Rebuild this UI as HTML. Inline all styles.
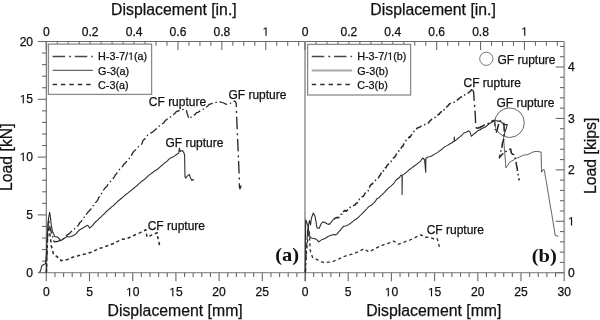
<!DOCTYPE html>
<html><head><meta charset="utf-8"><style>
html,body{margin:0;padding:0;background:#fff;}
body{width:600px;height:320px;overflow:hidden;}
svg{display:block;will-change:transform;}
text{stroke:#111;stroke-width:0.25px;}

</style></head><body>
<svg width="600" height="320" viewBox="0 0 600 320">
<rect width="600" height="320" fill="#fff"/>
<line x1="46.30" y1="41.50" x2="564.20" y2="41.50" stroke="#6a6a6a" stroke-width="1.1"/>
<line x1="46.30" y1="272.70" x2="564.20" y2="272.70" stroke="#939393" stroke-width="1.2"/>
<line x1="46.30" y1="41.50" x2="46.30" y2="272.70" stroke="#6a6a6a" stroke-width="1.1"/>
<line x1="564.20" y1="41.50" x2="564.20" y2="272.70" stroke="#a9a9a9" stroke-width="1.9"/>
<line x1="305.00" y1="41.50" x2="305.00" y2="272.70" stroke="#a9a9a9" stroke-width="1.9"/>
<line x1="37.80" y1="272.70" x2="46.30" y2="272.70" stroke="#6a6a6a" stroke-width="1.1"/>
<line x1="42.00" y1="261.14" x2="46.30" y2="261.14" stroke="#6a6a6a" stroke-width="1.1"/>
<line x1="42.00" y1="249.58" x2="46.30" y2="249.58" stroke="#6a6a6a" stroke-width="1.1"/>
<line x1="42.00" y1="238.02" x2="46.30" y2="238.02" stroke="#6a6a6a" stroke-width="1.1"/>
<line x1="42.00" y1="226.46" x2="46.30" y2="226.46" stroke="#6a6a6a" stroke-width="1.1"/>
<line x1="37.80" y1="214.90" x2="46.30" y2="214.90" stroke="#6a6a6a" stroke-width="1.1"/>
<line x1="42.00" y1="203.34" x2="46.30" y2="203.34" stroke="#6a6a6a" stroke-width="1.1"/>
<line x1="42.00" y1="191.78" x2="46.30" y2="191.78" stroke="#6a6a6a" stroke-width="1.1"/>
<line x1="42.00" y1="180.22" x2="46.30" y2="180.22" stroke="#6a6a6a" stroke-width="1.1"/>
<line x1="42.00" y1="168.66" x2="46.30" y2="168.66" stroke="#6a6a6a" stroke-width="1.1"/>
<line x1="37.80" y1="157.10" x2="46.30" y2="157.10" stroke="#6a6a6a" stroke-width="1.1"/>
<line x1="42.00" y1="145.54" x2="46.30" y2="145.54" stroke="#6a6a6a" stroke-width="1.1"/>
<line x1="42.00" y1="133.98" x2="46.30" y2="133.98" stroke="#6a6a6a" stroke-width="1.1"/>
<line x1="42.00" y1="122.42" x2="46.30" y2="122.42" stroke="#6a6a6a" stroke-width="1.1"/>
<line x1="42.00" y1="110.86" x2="46.30" y2="110.86" stroke="#6a6a6a" stroke-width="1.1"/>
<line x1="37.80" y1="99.30" x2="46.30" y2="99.30" stroke="#6a6a6a" stroke-width="1.1"/>
<line x1="42.00" y1="87.74" x2="46.30" y2="87.74" stroke="#6a6a6a" stroke-width="1.1"/>
<line x1="42.00" y1="76.18" x2="46.30" y2="76.18" stroke="#6a6a6a" stroke-width="1.1"/>
<line x1="42.00" y1="64.62" x2="46.30" y2="64.62" stroke="#6a6a6a" stroke-width="1.1"/>
<line x1="42.00" y1="53.06" x2="46.30" y2="53.06" stroke="#6a6a6a" stroke-width="1.1"/>
<line x1="37.80" y1="41.50" x2="46.30" y2="41.50" stroke="#6a6a6a" stroke-width="1.1"/>
<text x="33.10" y="276.70" font-size="12.1" text-anchor="end" font-family="Liberation Sans" font-weight="normal" fill="#111" >0</text>
<text x="33.10" y="218.90" font-size="12.1" text-anchor="end" font-family="Liberation Sans" font-weight="normal" fill="#111" >5</text>
<text x="19.64" y="161.10" font-size="12.1" text-anchor="start" font-family="Liberation Sans" font-weight="normal" fill="#111" > 0</text>
<path d="M525 0V1237L207 1010V1180L540 1409H706V0Z" fill="#111" stroke="#111" stroke-width="20.3" transform="translate(19.64,161.10) scale(0.005908,-0.005908)"/>
<text x="19.64" y="103.30" font-size="12.1" text-anchor="start" font-family="Liberation Sans" font-weight="normal" fill="#111" > 5</text>
<path d="M525 0V1237L207 1010V1180L540 1409H706V0Z" fill="#111" stroke="#111" stroke-width="20.3" transform="translate(19.64,103.30) scale(0.005908,-0.005908)"/>
<text x="33.10" y="45.50" font-size="12.1" text-anchor="end" font-family="Liberation Sans" font-weight="normal" fill="#111" >20</text>
<line x1="555.70" y1="272.70" x2="564.20" y2="272.70" stroke="#6a6a6a" stroke-width="1.1"/>
<line x1="559.90" y1="262.42" x2="564.20" y2="262.42" stroke="#6a6a6a" stroke-width="1.1"/>
<line x1="559.90" y1="252.13" x2="564.20" y2="252.13" stroke="#6a6a6a" stroke-width="1.1"/>
<line x1="559.90" y1="241.85" x2="564.20" y2="241.85" stroke="#6a6a6a" stroke-width="1.1"/>
<line x1="559.90" y1="231.56" x2="564.20" y2="231.56" stroke="#6a6a6a" stroke-width="1.1"/>
<line x1="555.70" y1="221.28" x2="564.20" y2="221.28" stroke="#6a6a6a" stroke-width="1.1"/>
<line x1="559.90" y1="210.99" x2="564.20" y2="210.99" stroke="#6a6a6a" stroke-width="1.1"/>
<line x1="559.90" y1="200.71" x2="564.20" y2="200.71" stroke="#6a6a6a" stroke-width="1.1"/>
<line x1="559.90" y1="190.43" x2="564.20" y2="190.43" stroke="#6a6a6a" stroke-width="1.1"/>
<line x1="559.90" y1="180.14" x2="564.20" y2="180.14" stroke="#6a6a6a" stroke-width="1.1"/>
<line x1="555.70" y1="169.86" x2="564.20" y2="169.86" stroke="#6a6a6a" stroke-width="1.1"/>
<line x1="559.90" y1="159.57" x2="564.20" y2="159.57" stroke="#6a6a6a" stroke-width="1.1"/>
<line x1="559.90" y1="149.29" x2="564.20" y2="149.29" stroke="#6a6a6a" stroke-width="1.1"/>
<line x1="559.90" y1="139.00" x2="564.20" y2="139.00" stroke="#6a6a6a" stroke-width="1.1"/>
<line x1="559.90" y1="128.72" x2="564.20" y2="128.72" stroke="#6a6a6a" stroke-width="1.1"/>
<line x1="555.70" y1="118.44" x2="564.20" y2="118.44" stroke="#6a6a6a" stroke-width="1.1"/>
<line x1="559.90" y1="108.15" x2="564.20" y2="108.15" stroke="#6a6a6a" stroke-width="1.1"/>
<line x1="559.90" y1="97.87" x2="564.20" y2="97.87" stroke="#6a6a6a" stroke-width="1.1"/>
<line x1="559.90" y1="87.58" x2="564.20" y2="87.58" stroke="#6a6a6a" stroke-width="1.1"/>
<line x1="559.90" y1="77.30" x2="564.20" y2="77.30" stroke="#6a6a6a" stroke-width="1.1"/>
<line x1="555.70" y1="67.01" x2="564.20" y2="67.01" stroke="#6a6a6a" stroke-width="1.1"/>
<line x1="559.90" y1="56.73" x2="564.20" y2="56.73" stroke="#6a6a6a" stroke-width="1.1"/>
<line x1="559.90" y1="46.45" x2="564.20" y2="46.45" stroke="#6a6a6a" stroke-width="1.1"/>
<text x="567.90" y="277.00" font-size="12.1" text-anchor="start" font-family="Liberation Sans" font-weight="normal" fill="#111" >0</text>
<text x="567.90" y="225.58" font-size="12.1" text-anchor="start" font-family="Liberation Sans" font-weight="normal" fill="#111" > </text>
<path d="M525 0V1237L207 1010V1180L540 1409H706V0Z" fill="#111" stroke="#111" stroke-width="20.3" transform="translate(567.90,225.58) scale(0.005908,-0.005908)"/>
<text x="567.90" y="174.16" font-size="12.1" text-anchor="start" font-family="Liberation Sans" font-weight="normal" fill="#111" >2</text>
<text x="567.90" y="122.74" font-size="12.1" text-anchor="start" font-family="Liberation Sans" font-weight="normal" fill="#111" >3</text>
<text x="567.90" y="71.31" font-size="12.1" text-anchor="start" font-family="Liberation Sans" font-weight="normal" fill="#111" >4</text>
<line x1="46.30" y1="272.70" x2="46.30" y2="281.20" stroke="#6a6a6a" stroke-width="1.1"/>
<line x1="54.94" y1="272.70" x2="54.94" y2="277.00" stroke="#6a6a6a" stroke-width="1.1"/>
<line x1="63.58" y1="272.70" x2="63.58" y2="277.00" stroke="#6a6a6a" stroke-width="1.1"/>
<line x1="72.22" y1="272.70" x2="72.22" y2="277.00" stroke="#6a6a6a" stroke-width="1.1"/>
<line x1="80.86" y1="272.70" x2="80.86" y2="277.00" stroke="#6a6a6a" stroke-width="1.1"/>
<line x1="89.50" y1="272.70" x2="89.50" y2="281.20" stroke="#6a6a6a" stroke-width="1.1"/>
<line x1="98.14" y1="272.70" x2="98.14" y2="277.00" stroke="#6a6a6a" stroke-width="1.1"/>
<line x1="106.78" y1="272.70" x2="106.78" y2="277.00" stroke="#6a6a6a" stroke-width="1.1"/>
<line x1="115.42" y1="272.70" x2="115.42" y2="277.00" stroke="#6a6a6a" stroke-width="1.1"/>
<line x1="124.06" y1="272.70" x2="124.06" y2="277.00" stroke="#6a6a6a" stroke-width="1.1"/>
<line x1="132.70" y1="272.70" x2="132.70" y2="281.20" stroke="#6a6a6a" stroke-width="1.1"/>
<line x1="141.34" y1="272.70" x2="141.34" y2="277.00" stroke="#6a6a6a" stroke-width="1.1"/>
<line x1="149.98" y1="272.70" x2="149.98" y2="277.00" stroke="#6a6a6a" stroke-width="1.1"/>
<line x1="158.62" y1="272.70" x2="158.62" y2="277.00" stroke="#6a6a6a" stroke-width="1.1"/>
<line x1="167.26" y1="272.70" x2="167.26" y2="277.00" stroke="#6a6a6a" stroke-width="1.1"/>
<line x1="175.90" y1="272.70" x2="175.90" y2="281.20" stroke="#6a6a6a" stroke-width="1.1"/>
<line x1="184.54" y1="272.70" x2="184.54" y2="277.00" stroke="#6a6a6a" stroke-width="1.1"/>
<line x1="193.18" y1="272.70" x2="193.18" y2="277.00" stroke="#6a6a6a" stroke-width="1.1"/>
<line x1="201.82" y1="272.70" x2="201.82" y2="277.00" stroke="#6a6a6a" stroke-width="1.1"/>
<line x1="210.46" y1="272.70" x2="210.46" y2="277.00" stroke="#6a6a6a" stroke-width="1.1"/>
<line x1="219.10" y1="272.70" x2="219.10" y2="281.20" stroke="#6a6a6a" stroke-width="1.1"/>
<line x1="227.74" y1="272.70" x2="227.74" y2="277.00" stroke="#6a6a6a" stroke-width="1.1"/>
<line x1="236.38" y1="272.70" x2="236.38" y2="277.00" stroke="#6a6a6a" stroke-width="1.1"/>
<line x1="245.02" y1="272.70" x2="245.02" y2="277.00" stroke="#6a6a6a" stroke-width="1.1"/>
<line x1="253.66" y1="272.70" x2="253.66" y2="277.00" stroke="#6a6a6a" stroke-width="1.1"/>
<line x1="262.30" y1="272.70" x2="262.30" y2="281.20" stroke="#6a6a6a" stroke-width="1.1"/>
<line x1="270.94" y1="272.70" x2="270.94" y2="277.00" stroke="#6a6a6a" stroke-width="1.1"/>
<line x1="279.58" y1="272.70" x2="279.58" y2="277.00" stroke="#6a6a6a" stroke-width="1.1"/>
<line x1="288.22" y1="272.70" x2="288.22" y2="277.00" stroke="#6a6a6a" stroke-width="1.1"/>
<line x1="296.86" y1="272.70" x2="296.86" y2="277.00" stroke="#6a6a6a" stroke-width="1.1"/>
<line x1="305.50" y1="272.70" x2="305.50" y2="281.20" stroke="#6a6a6a" stroke-width="1.1"/>
<text x="46.30" y="296.20" font-size="12.1" text-anchor="middle" font-family="Liberation Sans" font-weight="normal" fill="#111" >0</text>
<text x="89.50" y="296.20" font-size="12.1" text-anchor="middle" font-family="Liberation Sans" font-weight="normal" fill="#111" >5</text>
<text x="125.97" y="296.20" font-size="12.1" text-anchor="start" font-family="Liberation Sans" font-weight="normal" fill="#111" > 0</text>
<path d="M525 0V1237L207 1010V1180L540 1409H706V0Z" fill="#111" stroke="#111" stroke-width="20.3" transform="translate(125.97,296.20) scale(0.005908,-0.005908)"/>
<text x="169.17" y="296.20" font-size="12.1" text-anchor="start" font-family="Liberation Sans" font-weight="normal" fill="#111" > 5</text>
<path d="M525 0V1237L207 1010V1180L540 1409H706V0Z" fill="#111" stroke="#111" stroke-width="20.3" transform="translate(169.17,296.20) scale(0.005908,-0.005908)"/>
<text x="219.10" y="296.20" font-size="12.1" text-anchor="middle" font-family="Liberation Sans" font-weight="normal" fill="#111" >20</text>
<text x="262.30" y="296.20" font-size="12.1" text-anchor="middle" font-family="Liberation Sans" font-weight="normal" fill="#111" >25</text>
<line x1="305.00" y1="272.70" x2="305.00" y2="281.20" stroke="#6a6a6a" stroke-width="1.1"/>
<line x1="313.64" y1="272.70" x2="313.64" y2="277.00" stroke="#6a6a6a" stroke-width="1.1"/>
<line x1="322.28" y1="272.70" x2="322.28" y2="277.00" stroke="#6a6a6a" stroke-width="1.1"/>
<line x1="330.92" y1="272.70" x2="330.92" y2="277.00" stroke="#6a6a6a" stroke-width="1.1"/>
<line x1="339.56" y1="272.70" x2="339.56" y2="277.00" stroke="#6a6a6a" stroke-width="1.1"/>
<line x1="348.20" y1="272.70" x2="348.20" y2="281.20" stroke="#6a6a6a" stroke-width="1.1"/>
<line x1="356.84" y1="272.70" x2="356.84" y2="277.00" stroke="#6a6a6a" stroke-width="1.1"/>
<line x1="365.48" y1="272.70" x2="365.48" y2="277.00" stroke="#6a6a6a" stroke-width="1.1"/>
<line x1="374.12" y1="272.70" x2="374.12" y2="277.00" stroke="#6a6a6a" stroke-width="1.1"/>
<line x1="382.76" y1="272.70" x2="382.76" y2="277.00" stroke="#6a6a6a" stroke-width="1.1"/>
<line x1="391.40" y1="272.70" x2="391.40" y2="281.20" stroke="#6a6a6a" stroke-width="1.1"/>
<line x1="400.04" y1="272.70" x2="400.04" y2="277.00" stroke="#6a6a6a" stroke-width="1.1"/>
<line x1="408.68" y1="272.70" x2="408.68" y2="277.00" stroke="#6a6a6a" stroke-width="1.1"/>
<line x1="417.32" y1="272.70" x2="417.32" y2="277.00" stroke="#6a6a6a" stroke-width="1.1"/>
<line x1="425.96" y1="272.70" x2="425.96" y2="277.00" stroke="#6a6a6a" stroke-width="1.1"/>
<line x1="434.60" y1="272.70" x2="434.60" y2="281.20" stroke="#6a6a6a" stroke-width="1.1"/>
<line x1="443.24" y1="272.70" x2="443.24" y2="277.00" stroke="#6a6a6a" stroke-width="1.1"/>
<line x1="451.88" y1="272.70" x2="451.88" y2="277.00" stroke="#6a6a6a" stroke-width="1.1"/>
<line x1="460.52" y1="272.70" x2="460.52" y2="277.00" stroke="#6a6a6a" stroke-width="1.1"/>
<line x1="469.16" y1="272.70" x2="469.16" y2="277.00" stroke="#6a6a6a" stroke-width="1.1"/>
<line x1="477.80" y1="272.70" x2="477.80" y2="281.20" stroke="#6a6a6a" stroke-width="1.1"/>
<line x1="486.44" y1="272.70" x2="486.44" y2="277.00" stroke="#6a6a6a" stroke-width="1.1"/>
<line x1="495.08" y1="272.70" x2="495.08" y2="277.00" stroke="#6a6a6a" stroke-width="1.1"/>
<line x1="503.72" y1="272.70" x2="503.72" y2="277.00" stroke="#6a6a6a" stroke-width="1.1"/>
<line x1="512.36" y1="272.70" x2="512.36" y2="277.00" stroke="#6a6a6a" stroke-width="1.1"/>
<line x1="521.00" y1="272.70" x2="521.00" y2="281.20" stroke="#6a6a6a" stroke-width="1.1"/>
<line x1="529.64" y1="272.70" x2="529.64" y2="277.00" stroke="#6a6a6a" stroke-width="1.1"/>
<line x1="538.28" y1="272.70" x2="538.28" y2="277.00" stroke="#6a6a6a" stroke-width="1.1"/>
<line x1="546.92" y1="272.70" x2="546.92" y2="277.00" stroke="#6a6a6a" stroke-width="1.1"/>
<line x1="555.56" y1="272.70" x2="555.56" y2="277.00" stroke="#6a6a6a" stroke-width="1.1"/>
<line x1="564.20" y1="272.70" x2="564.20" y2="281.20" stroke="#6a6a6a" stroke-width="1.1"/>
<text x="305.00" y="296.20" font-size="12.1" text-anchor="middle" font-family="Liberation Sans" font-weight="normal" fill="#111" >0</text>
<text x="348.20" y="296.20" font-size="12.1" text-anchor="middle" font-family="Liberation Sans" font-weight="normal" fill="#111" >5</text>
<text x="384.67" y="296.20" font-size="12.1" text-anchor="start" font-family="Liberation Sans" font-weight="normal" fill="#111" > 0</text>
<path d="M525 0V1237L207 1010V1180L540 1409H706V0Z" fill="#111" stroke="#111" stroke-width="20.3" transform="translate(384.67,296.20) scale(0.005908,-0.005908)"/>
<text x="427.87" y="296.20" font-size="12.1" text-anchor="start" font-family="Liberation Sans" font-weight="normal" fill="#111" > 5</text>
<path d="M525 0V1237L207 1010V1180L540 1409H706V0Z" fill="#111" stroke="#111" stroke-width="20.3" transform="translate(427.87,296.20) scale(0.005908,-0.005908)"/>
<text x="477.80" y="296.20" font-size="12.1" text-anchor="middle" font-family="Liberation Sans" font-weight="normal" fill="#111" >20</text>
<text x="521.00" y="296.20" font-size="12.1" text-anchor="middle" font-family="Liberation Sans" font-weight="normal" fill="#111" >25</text>
<text x="564.20" y="296.20" font-size="12.1" text-anchor="middle" font-family="Liberation Sans" font-weight="normal" fill="#111" >30</text>
<line x1="46.30" y1="41.50" x2="46.30" y2="50.00" stroke="#6a6a6a" stroke-width="1.1"/>
<line x1="57.27" y1="41.50" x2="57.27" y2="45.80" stroke="#6a6a6a" stroke-width="1.1"/>
<line x1="68.25" y1="41.50" x2="68.25" y2="45.80" stroke="#6a6a6a" stroke-width="1.1"/>
<line x1="79.22" y1="41.50" x2="79.22" y2="45.80" stroke="#6a6a6a" stroke-width="1.1"/>
<line x1="90.19" y1="41.50" x2="90.19" y2="50.00" stroke="#6a6a6a" stroke-width="1.1"/>
<line x1="101.16" y1="41.50" x2="101.16" y2="45.80" stroke="#6a6a6a" stroke-width="1.1"/>
<line x1="112.14" y1="41.50" x2="112.14" y2="45.80" stroke="#6a6a6a" stroke-width="1.1"/>
<line x1="123.11" y1="41.50" x2="123.11" y2="45.80" stroke="#6a6a6a" stroke-width="1.1"/>
<line x1="134.08" y1="41.50" x2="134.08" y2="50.00" stroke="#6a6a6a" stroke-width="1.1"/>
<line x1="145.06" y1="41.50" x2="145.06" y2="45.80" stroke="#6a6a6a" stroke-width="1.1"/>
<line x1="156.03" y1="41.50" x2="156.03" y2="45.80" stroke="#6a6a6a" stroke-width="1.1"/>
<line x1="167.00" y1="41.50" x2="167.00" y2="45.80" stroke="#6a6a6a" stroke-width="1.1"/>
<line x1="177.97" y1="41.50" x2="177.97" y2="50.00" stroke="#6a6a6a" stroke-width="1.1"/>
<line x1="188.95" y1="41.50" x2="188.95" y2="45.80" stroke="#6a6a6a" stroke-width="1.1"/>
<line x1="199.92" y1="41.50" x2="199.92" y2="45.80" stroke="#6a6a6a" stroke-width="1.1"/>
<line x1="210.89" y1="41.50" x2="210.89" y2="45.80" stroke="#6a6a6a" stroke-width="1.1"/>
<line x1="221.86" y1="41.50" x2="221.86" y2="50.00" stroke="#6a6a6a" stroke-width="1.1"/>
<line x1="232.84" y1="41.50" x2="232.84" y2="45.80" stroke="#6a6a6a" stroke-width="1.1"/>
<line x1="243.81" y1="41.50" x2="243.81" y2="45.80" stroke="#6a6a6a" stroke-width="1.1"/>
<line x1="254.78" y1="41.50" x2="254.78" y2="45.80" stroke="#6a6a6a" stroke-width="1.1"/>
<line x1="265.76" y1="41.50" x2="265.76" y2="50.00" stroke="#6a6a6a" stroke-width="1.1"/>
<line x1="276.73" y1="41.50" x2="276.73" y2="45.80" stroke="#6a6a6a" stroke-width="1.1"/>
<line x1="287.70" y1="41.50" x2="287.70" y2="45.80" stroke="#6a6a6a" stroke-width="1.1"/>
<line x1="298.67" y1="41.50" x2="298.67" y2="45.80" stroke="#6a6a6a" stroke-width="1.1"/>
<text x="46.30" y="35.80" font-size="12.1" text-anchor="middle" font-family="Liberation Sans" font-weight="normal" fill="#111" >0</text>
<text x="90.19" y="35.80" font-size="12.1" text-anchor="middle" font-family="Liberation Sans" font-weight="normal" fill="#111" >0.2</text>
<text x="134.08" y="35.80" font-size="12.1" text-anchor="middle" font-family="Liberation Sans" font-weight="normal" fill="#111" >0.4</text>
<text x="177.97" y="35.80" font-size="12.1" text-anchor="middle" font-family="Liberation Sans" font-weight="normal" fill="#111" >0.6</text>
<text x="221.86" y="35.80" font-size="12.1" text-anchor="middle" font-family="Liberation Sans" font-weight="normal" fill="#111" >0.8</text>
<text x="262.39" y="35.80" font-size="12.1" text-anchor="start" font-family="Liberation Sans" font-weight="normal" fill="#111" > </text>
<path d="M525 0V1237L207 1010V1180L540 1409H706V0Z" fill="#111" stroke="#111" stroke-width="20.3" transform="translate(262.39,35.80) scale(0.005908,-0.005908)"/>
<line x1="305.00" y1="41.50" x2="305.00" y2="50.00" stroke="#6a6a6a" stroke-width="1.1"/>
<line x1="315.97" y1="41.50" x2="315.97" y2="45.80" stroke="#6a6a6a" stroke-width="1.1"/>
<line x1="326.95" y1="41.50" x2="326.95" y2="45.80" stroke="#6a6a6a" stroke-width="1.1"/>
<line x1="337.92" y1="41.50" x2="337.92" y2="45.80" stroke="#6a6a6a" stroke-width="1.1"/>
<line x1="348.89" y1="41.50" x2="348.89" y2="50.00" stroke="#6a6a6a" stroke-width="1.1"/>
<line x1="359.86" y1="41.50" x2="359.86" y2="45.80" stroke="#6a6a6a" stroke-width="1.1"/>
<line x1="370.84" y1="41.50" x2="370.84" y2="45.80" stroke="#6a6a6a" stroke-width="1.1"/>
<line x1="381.81" y1="41.50" x2="381.81" y2="45.80" stroke="#6a6a6a" stroke-width="1.1"/>
<line x1="392.78" y1="41.50" x2="392.78" y2="50.00" stroke="#6a6a6a" stroke-width="1.1"/>
<line x1="403.76" y1="41.50" x2="403.76" y2="45.80" stroke="#6a6a6a" stroke-width="1.1"/>
<line x1="414.73" y1="41.50" x2="414.73" y2="45.80" stroke="#6a6a6a" stroke-width="1.1"/>
<line x1="425.70" y1="41.50" x2="425.70" y2="45.80" stroke="#6a6a6a" stroke-width="1.1"/>
<line x1="436.67" y1="41.50" x2="436.67" y2="50.00" stroke="#6a6a6a" stroke-width="1.1"/>
<line x1="447.65" y1="41.50" x2="447.65" y2="45.80" stroke="#6a6a6a" stroke-width="1.1"/>
<line x1="458.62" y1="41.50" x2="458.62" y2="45.80" stroke="#6a6a6a" stroke-width="1.1"/>
<line x1="469.59" y1="41.50" x2="469.59" y2="45.80" stroke="#6a6a6a" stroke-width="1.1"/>
<line x1="480.56" y1="41.50" x2="480.56" y2="50.00" stroke="#6a6a6a" stroke-width="1.1"/>
<line x1="491.54" y1="41.50" x2="491.54" y2="45.80" stroke="#6a6a6a" stroke-width="1.1"/>
<line x1="502.51" y1="41.50" x2="502.51" y2="45.80" stroke="#6a6a6a" stroke-width="1.1"/>
<line x1="513.48" y1="41.50" x2="513.48" y2="45.80" stroke="#6a6a6a" stroke-width="1.1"/>
<line x1="524.46" y1="41.50" x2="524.46" y2="50.00" stroke="#6a6a6a" stroke-width="1.1"/>
<line x1="535.43" y1="41.50" x2="535.43" y2="45.80" stroke="#6a6a6a" stroke-width="1.1"/>
<line x1="546.40" y1="41.50" x2="546.40" y2="45.80" stroke="#6a6a6a" stroke-width="1.1"/>
<line x1="557.37" y1="41.50" x2="557.37" y2="45.80" stroke="#6a6a6a" stroke-width="1.1"/>
<text x="305.00" y="35.80" font-size="12.1" text-anchor="middle" font-family="Liberation Sans" font-weight="normal" fill="#111" >0</text>
<text x="348.89" y="35.80" font-size="12.1" text-anchor="middle" font-family="Liberation Sans" font-weight="normal" fill="#111" >0.2</text>
<text x="392.78" y="35.80" font-size="12.1" text-anchor="middle" font-family="Liberation Sans" font-weight="normal" fill="#111" >0.4</text>
<text x="436.67" y="35.80" font-size="12.1" text-anchor="middle" font-family="Liberation Sans" font-weight="normal" fill="#111" >0.6</text>
<text x="480.56" y="35.80" font-size="12.1" text-anchor="middle" font-family="Liberation Sans" font-weight="normal" fill="#111" >0.8</text>
<text x="521.09" y="35.80" font-size="12.1" text-anchor="start" font-family="Liberation Sans" font-weight="normal" fill="#111" > </text>
<path d="M525 0V1237L207 1010V1180L540 1409H706V0Z" fill="#111" stroke="#111" stroke-width="20.3" transform="translate(521.09,35.80) scale(0.005908,-0.005908)"/>
<text x="173.90" y="15.10" font-size="15.8" text-anchor="middle" font-family="Liberation Sans" font-weight="normal" fill="#111" >Displacement [in.]</text>
<text x="433.10" y="15.10" font-size="15.8" text-anchor="middle" font-family="Liberation Sans" font-weight="normal" fill="#111" >Displacement [in.]</text>
<text x="175.10" y="316.40" font-size="15.8" text-anchor="middle" font-family="Liberation Sans" font-weight="normal" fill="#111" >Displacement [mm]</text>
<text x="433.80" y="316.40" font-size="15.8" text-anchor="middle" font-family="Liberation Sans" font-weight="normal" fill="#111" >Displacement [mm]</text>
<text x="0" y="0" font-size="15.8" text-anchor="middle" font-family="Liberation Sans" fill="#111" transform="translate(12.2,157.2) rotate(-90)">Load [kN]</text>
<text x="0" y="0" font-size="15.8" text-anchor="middle" font-family="Liberation Sans" fill="#111" transform="translate(596.0,155.8) rotate(-90)">Load [kips]</text>
<polyline points="39.30,272.10 40.50,271.10 41.30,267.50 42.10,265.40 43.80,264.50 45.40,263.80 45.62,261.42 45.85,259.43 46.07,257.11 46.30,255.00 46.40,253.07 46.50,251.09 46.60,248.70 46.70,246.66 46.80,245.24 46.90,242.83 47.00,240.81 47.10,239.35 47.20,236.98 47.30,235.00 47.46,233.11 47.62,230.73 47.79,228.72 47.95,226.26 48.11,224.47 48.27,222.51 48.44,220.14 48.60,218.00 49.10,215.32 49.60,212.30 50.30,216.00 50.54,218.31 50.77,220.07 51.01,222.74 51.25,224.75 51.63,227.03 52.02,229.04 52.40,231.40 53.55,233.62 54.70,236.50 57.50,237.00 59.40,238.90 60.80,240.70 62.70,239.30 65.50,237.50 67.40,236.50 69.20,237.00 71.10,236.50 74.50,235.00 76.13,233.59 77.77,231.65 79.40,230.00 81.60,228.79 83.80,227.53 86.00,225.90 87.80,225.30 89.70,228.20 91.28,226.67 92.85,225.14 94.42,223.10 96.00,221.50 97.70,220.09 99.40,218.21 101.10,216.93 102.80,215.00 104.60,213.64 106.40,211.47 108.20,209.87 110.00,208.50 111.57,206.89 113.13,205.99 114.70,204.21 116.27,202.92 117.83,201.28 119.40,200.00 121.25,198.46 123.10,196.90 124.64,195.54 126.17,194.23 127.71,193.11 129.25,191.83 130.78,190.77 132.32,189.34 133.85,188.23 135.39,186.89 136.93,185.71 138.46,184.20 140.00,182.80 141.67,181.16 143.33,180.25 145.00,178.93 146.67,177.48 148.33,175.85 150.00,174.40 152.08,173.08 154.17,171.26 156.25,170.00 157.81,168.98 159.38,167.55 160.94,166.10 162.50,165.00 164.06,163.29 165.62,162.45 167.19,161.14 168.75,159.40 170.83,157.85 172.92,157.08 175.00,155.60 176.88,154.29 178.75,153.10 179.07,150.36 179.40,148.10 180.20,151.50 182.50,150.60 183.75,152.50 184.60,155.00 184.64,157.05 184.68,159.57 184.72,161.83 184.76,163.44 184.80,166.03 184.84,167.82 184.88,170.48 184.92,172.40 184.96,174.98 185.00,176.90 185.60,178.10 187.50,175.90 189.40,174.40 190.30,177.50 191.90,180.60 193.10,179.40 194.00,180.00" fill="none" stroke="#2e2e2e" stroke-width="1.1" stroke-linejoin="round"/>
<polyline points="46.40,272.50 46.47,269.84 46.54,267.26 46.61,264.94 46.69,262.29 46.76,259.74 46.83,257.44 46.90,255.00 47.00,252.54 47.10,249.75 47.20,247.02 47.30,243.98 47.40,241.45 47.50,238.58 47.60,236.00 47.77,233.30 47.95,230.76 48.12,228.33 48.30,226.00 49.30,230.00 49.70,232.92 50.10,235.53 50.50,238.00 50.73,240.68 50.97,243.18 51.20,245.50 52.30,249.60 53.50,254.30 55.80,255.80 59.30,258.30 61.10,260.70 64.00,260.10 67.50,259.50 69.83,258.35 72.17,257.45 74.50,256.60 78.00,255.78 81.50,254.80 85.00,254.09 88.50,253.10 91.23,252.15 93.97,250.99 96.70,249.60 99.40,248.39 102.10,247.73 104.80,246.70 107.53,245.82 110.27,244.74 113.00,243.75 115.33,242.39 117.67,241.40 120.00,240.25 122.50,239.27 125.00,239.04 127.50,238.26 130.00,237.30 132.33,236.23 134.67,234.98 137.00,234.00 139.97,232.85 142.93,231.24 145.90,229.80 146.40,233.63 146.90,237.00 149.47,236.13 152.05,234.86 154.62,233.72 157.20,232.70 157.60,236.40 158.15,239.03 158.70,241.51 159.25,243.92 159.80,246.70" fill="none" stroke="#2a2a2a" stroke-width="1.55" stroke-linejoin="round" stroke-dasharray="3.2 2.8"/>
<polyline points="46.40,272.50 46.44,271.04 46.49,269.57 46.53,268.02 46.58,266.59 46.62,264.73 46.67,263.34 46.71,260.66 46.76,259.57 46.80,258.00 46.85,256.90 46.91,254.91 46.96,253.57 47.02,250.99 47.07,249.78 47.13,247.88 47.18,246.60 47.24,245.00 47.29,242.69 47.35,241.30 47.40,240.00 47.48,237.99 47.55,237.00 47.62,235.07 47.70,232.59 47.77,231.61 47.85,229.07 47.92,227.89 48.00,226.00 48.15,223.80 48.30,221.90 48.45,221.20 48.60,219.00 48.83,220.32 49.07,221.99 49.30,224.00 49.74,226.34 50.18,227.97 50.62,229.03 51.06,231.59 51.50,232.80 52.04,234.65 52.58,236.61 53.12,237.85 53.66,240.53 54.20,241.80 57.00,241.50 58.50,241.08 60.00,240.20 61.60,239.50 62.90,239.06 64.20,237.97 65.50,236.50 66.80,235.29 68.10,234.40 69.40,233.60 70.83,232.00 72.27,230.77 73.70,230.00 74.97,228.23 76.23,227.26 77.50,226.25 78.62,224.87 79.74,222.65 80.86,221.96 81.98,220.06 83.10,218.75 84.05,217.23 85.00,216.56 85.95,214.86 86.90,213.60 88.13,211.98 89.37,210.78 90.60,209.40 91.73,208.15 92.86,205.87 93.99,205.47 95.12,202.83 96.25,201.90 97.11,200.84 97.97,199.60 98.83,197.25 99.68,196.81 100.54,194.95 101.40,193.75 102.46,192.34 103.52,190.16 104.58,188.71 105.63,187.37 106.69,186.80 107.75,184.75 109.85,182.50 111.22,180.44 112.60,179.10 113.48,178.04 114.37,176.88 115.25,175.00 116.42,173.98 117.60,171.90 118.64,170.49 119.67,169.28 120.71,168.25 121.75,167.00 122.79,166.11 123.83,164.08 124.86,163.62 125.90,162.10 127.02,161.22 128.13,160.06 129.25,158.40 130.37,156.08 131.48,155.40 132.60,153.10 133.80,151.31 135.00,150.50 136.50,148.61 138.00,147.10 139.37,146.00 140.73,145.14 142.10,143.40 142.68,141.51 143.25,140.00 144.57,139.31 145.90,137.60 147.75,135.10 149.37,134.15 150.98,132.87 152.60,132.10 154.07,130.71 155.53,129.38 157.00,128.60 158.31,126.88 159.62,125.75 160.94,125.19 162.25,123.75 163.75,122.96 165.25,120.58 166.75,119.60 168.37,117.69 169.98,117.45 171.60,115.50 174.25,114.00 175.38,112.74 176.50,111.40 178.00,111.00 179.62,110.64 181.25,110.50 182.88,109.48 184.50,109.10 186.40,110.50 186.86,112.19 187.32,114.05 187.78,115.19 188.24,116.73 188.70,118.40 190.10,118.40 191.75,116.27 193.40,115.20 194.97,114.73 196.53,112.71 198.10,112.30 199.70,111.14 201.30,110.00 202.87,109.51 204.43,107.76 206.00,107.30 207.65,106.08 209.30,104.30 212.30,103.30 214.20,103.31 216.10,102.39 218.00,101.70 220.70,102.00 223.70,103.00 226.30,104.30 228.30,104.00 230.30,103.30 233.00,101.70 234.75,101.00 236.20,103.00" fill="none" stroke="#2a2a2a" stroke-width="1.3" stroke-linejoin="round" stroke-dasharray="8 2.8 1.5 2.8"/>
<polyline points="236.2,103 236.8,120 239.5,182.5 239.3,186.5 240.0,188.8 241.2,185.5" fill="none" stroke="#2a2a2a" stroke-width="1.35" stroke-linejoin="round" stroke-dasharray="12.5 4 2 3.7" stroke-dashoffset="8.5"/>
<polyline points="305.20,272.50 305.21,270.73 305.22,268.73 305.24,266.39 305.25,264.16 305.26,261.89 305.27,260.46 305.29,258.25 305.30,256.48 305.31,254.10 305.32,252.43 305.34,249.95 305.35,248.40 305.36,246.30 305.38,243.99 305.39,242.07 305.40,240.00 305.44,238.15 305.47,235.70 305.50,234.02 305.54,232.23 305.57,229.74 305.61,228.21 305.64,226.10 305.68,224.23 305.71,221.76 305.75,219.90 306.58,221.82 307.42,224.74 308.25,226.75 308.47,229.52 308.68,231.70 308.90,234.25 310.50,237.50 312.50,238.30 315.60,239.00 317.18,240.08 318.75,241.90 320.62,240.38 322.50,239.40 324.38,238.70 326.25,237.75 328.12,236.49 330.00,235.60 333.75,234.40 335.60,235.00 337.18,233.86 338.75,231.90 340.42,230.10 342.08,227.86 343.75,226.25 346.40,225.80 348.57,224.64 350.75,223.20 352.93,221.32 355.10,219.70 356.70,218.77 358.30,217.44 359.90,215.75 361.90,213.79 363.90,211.80 365.50,210.20 367.10,208.51 368.70,206.60 371.10,205.27 373.50,203.40 375.25,201.43 377.00,198.60 378.75,198.10 380.20,196.23 381.65,195.08 383.10,193.75 384.85,191.87 386.60,189.80 388.60,187.87 390.60,186.30 393.60,183.70 394.95,181.78 396.30,179.70 399.50,177.50 400.80,175.30 402.00,175.30 402.01,177.05 402.02,179.89 402.03,181.69 402.04,183.44 402.06,186.06 402.07,187.86 402.08,189.88 402.09,192.26 402.10,194.40 402.12,191.95 402.14,189.89 402.17,188.36 402.19,186.09 402.21,183.35 402.23,181.92 402.26,179.11 402.28,177.27 402.30,175.30 404.00,174.36 405.70,172.81 407.40,171.40 409.57,169.48 411.75,167.90 413.93,166.24 416.10,164.80 418.30,162.95 420.50,161.30 421.65,159.31 422.80,158.00 424.60,159.75 424.78,162.31 424.97,163.57 425.15,166.01 425.33,168.41 425.52,170.20 425.70,172.40 425.73,170.52 425.77,167.54 425.80,165.88 425.83,163.49 425.87,160.97 425.90,158.50 427.60,157.10 429.80,156.80 432.00,155.80 433.75,154.65 435.50,153.60 437.70,152.40 439.90,150.60 441.63,149.53 443.37,147.95 445.10,146.60 447.50,145.40 449.70,143.97 451.90,142.79 454.10,141.20 454.20,139.02 454.30,137.00 454.45,138.63 454.60,141.00 456.35,139.85 458.10,138.04 459.85,136.86 461.60,135.50 463.80,133.00 466.25,132.16 468.70,130.80 469.80,131.90 470.60,133.80 471.40,136.30 473.10,134.60 475.80,132.50 478.00,130.67 480.20,129.70 482.40,128.26 484.60,127.50 486.25,126.23 487.90,124.80 490.05,123.27 492.20,122.00 495.00,120.40 497.50,121.10 500.30,121.10 502.05,122.63 503.80,124.60 507.30,124.60 506.60,126.86 505.90,129.58 505.20,131.28 504.50,133.80 503.40,135.60" fill="none" stroke="#2a2a2a" stroke-width="1.05" stroke-linejoin="round"/>
<polyline points="503.40,135.60 503.56,137.49 503.71,139.61 503.87,141.56 504.02,143.60 504.18,145.58 504.34,147.82 504.49,149.47 504.65,151.82 504.81,153.27 504.96,155.55 505.12,157.59 505.27,159.43 505.43,161.98 505.59,163.60 505.74,166.05 505.90,167.80 507.45,165.86 509.00,163.10 511.10,161.31 513.20,160.32 515.30,158.40 517.40,157.91 519.50,157.02 521.60,156.10 523.67,155.14 525.73,154.99 527.80,154.50 530.15,153.46 532.50,152.20 534.85,151.62 537.20,151.40 541.10,152.10 541.15,153.86 541.20,155.95 541.25,157.91 541.30,160.40 541.35,162.01 541.40,164.09 541.45,166.30 541.50,168.58 541.55,170.00 541.60,172.20 543.50,169.00 544.40,170.30 544.73,171.87 545.06,174.68 545.39,176.54 545.72,178.48 546.05,180.21 546.38,181.93 546.71,183.84 547.04,185.95 547.37,188.07 547.70,189.70 548.03,192.25 548.36,194.25 548.69,195.59 549.02,198.31 549.35,199.97 549.68,202.34 550.02,203.92 550.35,206.18 550.68,207.86 551.01,209.98 551.34,211.85 551.67,213.40 552.00,215.49 552.33,217.55 552.66,219.69 552.99,221.63 553.32,223.76 553.65,225.85 553.98,227.59 554.31,229.50 554.64,231.65 554.97,234.03 555.30,235.60 558.40,236.25" fill="none" stroke="#4a4a4a" stroke-width="0.9" stroke-linejoin="round"/>
<polyline points="305.20,272.50 305.35,269.14 305.50,266.00 305.69,263.24 305.88,260.99 306.06,258.09 306.25,255.82 306.44,253.17 306.62,250.43 306.81,248.15 307.00,245.60 307.32,242.80 307.64,240.52 307.96,237.78 308.28,235.27 308.60,233.00 309.30,231.00 309.43,233.71 309.56,236.71 309.69,239.05 309.81,241.86 309.94,244.86 310.07,247.81 310.20,250.30 311.35,253.85 312.50,257.30 315.62,258.84 318.75,260.50 321.88,261.94 325.00,262.80 328.12,262.13 331.25,262.00 333.83,261.18 336.42,259.81 339.00,258.90 341.35,257.71 343.70,256.72 346.05,255.86 348.40,255.00 351.02,254.42 353.63,253.28 356.25,252.70 358.83,251.43 361.42,250.15 364.00,248.75 366.38,250.25 368.75,251.90 371.88,250.35 375.00,248.75 377.50,247.31 380.00,246.40 382.75,245.08 385.50,244.10 388.25,243.33 391.00,242.12 393.75,241.10 396.07,242.54 398.40,244.20 400.92,243.31 403.44,242.29 405.96,241.26 408.48,240.62 411.00,239.50 413.50,238.44 416.00,237.00 418.50,236.02 421.00,234.80 425.00,237.20 428.90,237.20 433.60,238.75 436.70,238.00 437.50,239.50 438.27,242.38 439.03,245.46 439.80,248.10" fill="none" stroke="#333" stroke-width="1.35" stroke-linejoin="round" stroke-dasharray="3.2 2.8"/>
<polyline points="305.60,272.50 306.20,255.00 307.00,240.00" fill="none" stroke="#2a2a2a" stroke-width="1.2" stroke-linejoin="round" stroke-dasharray="5 3 1.5 3"/>
<polyline points="307.00,240.00 307.09,238.53 307.17,237.02 307.26,235.35 307.34,234.65 307.43,232.36 307.51,231.43 307.60,230.00 307.87,229.04 308.14,226.87 308.41,225.98 308.69,224.69 308.96,222.76 309.23,221.74 309.50,220.50 309.83,222.20 310.17,223.45 310.50,225.00 310.73,223.63 310.95,221.46 311.17,219.94 311.40,218.60 311.86,216.81 312.32,215.81 312.79,214.82 313.25,213.00 314.12,214.59 315.00,216.00 315.22,217.61 315.44,218.55 315.67,220.25 315.89,220.94 316.11,222.46 316.33,224.17 316.56,225.56 316.78,226.59 317.00,228.00 319.40,228.10 320.02,226.24 320.63,224.97 321.25,223.75 322.18,222.53 323.10,221.90 325.00,222.50 326.90,223.75 329.40,224.40 330.23,223.13 331.07,222.61 331.90,221.25 332.82,220.02 333.75,219.40" fill="none" stroke="#2a2a2a" stroke-width="1.1" stroke-linejoin="round"/>
<polyline points="333.75,219.40 335.32,217.96 336.90,217.50 338.45,217.71 340.00,216.25 340.94,214.33 341.88,214.12 342.81,211.75 343.75,211.25 345.00,210.38 346.25,211.32 347.50,210.00 348.44,208.54 349.38,208.38 350.31,207.11 351.25,206.25 352.50,205.75 353.75,205.41 355.00,205.00 355.93,203.40 356.87,203.51 357.80,201.14 358.73,200.35 359.67,198.93 360.60,198.75 361.59,197.26 362.57,196.44 363.56,196.26 364.54,194.25 365.53,192.70 366.51,191.89 367.50,191.25 368.15,190.77 368.80,187.74 369.45,187.38 370.10,185.80 371.14,184.54 372.18,184.01 373.22,182.39 374.26,181.98 375.30,180.60 376.26,179.54 377.22,178.75 378.18,178.14 379.14,176.51 380.10,175.30 380.98,173.46 381.85,172.12 382.73,172.50 383.60,170.50 384.38,169.38 385.15,167.75 385.93,168.00 386.70,166.10 387.85,164.82 389.00,163.25 390.00,162.55 391.00,161.70 392.00,159.90 392.94,158.39 393.88,157.39 394.81,157.21 395.75,155.40 396.68,153.42 397.60,152.75 398.43,152.03 399.26,149.63 400.09,149.49 400.92,148.31 401.75,146.75 402.51,146.50 403.27,145.24 404.04,143.57 404.80,142.50 405.69,140.96 406.57,139.87 407.46,139.55 408.34,138.52 409.23,136.73 410.11,137.23 411.00,135.50 412.00,134.26 413.00,133.36 414.00,131.25 415.00,130.50 416.25,129.16 417.50,127.87 418.75,127.59 420.00,127.00 421.25,125.96 422.50,125.61 423.75,124.90 425.00,124.50 426.25,124.44 427.50,123.87 428.75,122.50 429.88,120.79 431.00,120.06 432.12,118.52 433.25,118.00 434.63,117.54 436.02,117.35 437.40,115.75 438.32,114.28 439.25,114.35 440.18,112.58 441.10,112.00 442.33,110.19 443.55,110.60 444.77,108.90 446.00,108.25 447.00,106.49 448.00,105.81 449.00,104.28 450.00,103.60 451.37,103.00 452.73,102.64 454.10,102.30 455.43,101.19 456.77,100.53 458.10,99.40 459.47,98.22 460.83,97.07 462.20,97.00 463.57,95.45 464.93,94.69 466.30,94.60 467.50,93.67 468.70,92.41 469.90,91.70 471.50,89.70 472.80,90.10" fill="none" stroke="#2a2a2a" stroke-width="1.5" stroke-linejoin="round" stroke-dasharray="6.5 2.6 1.5 2.6"/>
<polyline points="472.8,90.1 473.6,92 474.2,101 475.3,115 475.6,123 476.2,127.5 477.3,128.7" fill="none" stroke="#2a2a2a" stroke-width="1.4" stroke-linejoin="round" stroke-dasharray="12.5 4 2 3.7" stroke-dashoffset="1.5"/>
<polyline points="477.30,128.70 478.57,127.55 479.85,127.84 481.12,126.68 482.40,126.40 483.64,125.23 484.89,125.12 486.13,124.50 487.37,123.85 488.61,123.18 489.86,122.20 491.10,122.00 492.75,120.76 494.40,120.40 494.58,122.15 494.76,122.88 494.93,124.91 495.11,126.52 495.29,128.06 495.47,129.60 495.64,129.72 495.82,131.13 496.00,133.00 496.50,132.09 497.00,130.47 497.50,129.00 497.78,127.02 498.06,126.44 498.34,125.35 498.62,123.84 498.90,121.80 500.30,121.10 502.40,121.80 503.80,123.20 503.89,124.01 503.98,125.49 504.06,126.29 504.15,129.36 504.24,129.32 504.32,131.56 504.41,132.54 504.50,133.80 504.20,135.67 503.90,137.25 503.60,138.90 503.32,140.77 503.04,141.64 502.75,142.39 502.47,143.33 502.19,145.27 501.91,147.35 501.63,147.23 501.35,149.49 501.06,150.67 500.78,151.11 500.50,153.00 500.13,154.04 499.77,156.47 499.40,157.70 500.25,156.60 501.10,155.56 501.95,154.70 502.80,153.75 504.10,151.98 505.40,152.02 506.70,150.60 508.00,150.23 509.30,149.59 510.60,149.00 510.87,150.04 511.13,152.23 511.40,153.00 512.58,154.33 513.75,154.50 514.27,156.15 514.78,156.89 515.30,159.20 515.57,159.87 515.83,161.17 516.10,162.34 516.37,164.67 516.63,165.78 516.90,167.00 517.17,168.03 517.43,170.87 517.70,171.70 517.95,173.37 518.20,175.09 518.45,176.57 518.70,177.76 518.95,178.91 519.20,180.30" fill="none" stroke="#2a2a2a" stroke-width="1.6" stroke-linejoin="round" stroke-dasharray="9 3 1.5 3"/>
<text x="148.80" y="105.70" font-size="12" text-anchor="start" font-family="Liberation Sans" font-weight="normal" fill="#111" >CF rupture</text>
<text x="228.40" y="98.75" font-size="12" text-anchor="start" font-family="Liberation Sans" font-weight="normal" fill="#111" >GF rupture</text>
<text x="165.40" y="147.30" font-size="12" text-anchor="start" font-family="Liberation Sans" font-weight="normal" fill="#111" >GF rupture</text>
<text x="147.70" y="229.50" font-size="12" text-anchor="start" font-family="Liberation Sans" font-weight="normal" fill="#111" >CF rupture</text>
<text x="463.50" y="86.90" font-size="12" text-anchor="start" font-family="Liberation Sans" font-weight="normal" fill="#111" >CF rupture</text>
<text x="496.40" y="106.60" font-size="12" text-anchor="start" font-family="Liberation Sans" font-weight="normal" fill="#111" >GF rupture</text>
<text x="426.70" y="233.75" font-size="12" text-anchor="start" font-family="Liberation Sans" font-weight="normal" fill="#111" >CF rupture</text>
<text x="497.50" y="63.50" font-size="12" text-anchor="start" font-family="Liberation Sans" font-weight="normal" fill="#111" >GF rupture</text>
<circle cx="486.3" cy="58.8" r="6.6" fill="none" stroke="#777" stroke-width="1"/>
<circle cx="509.5" cy="122.7" r="14.8" fill="none" stroke="#666" stroke-width="1"/>
<text x="0" y="0" font-size="19.5" font-family="Liberation Serif" font-weight="bold" fill="#111" style="stroke:none" transform="translate(275.3,260.6) scale(1.05,1)">(a)</text>
<text x="0" y="0" font-size="19.5" font-family="Liberation Serif" font-weight="bold" fill="#111" style="stroke:none" transform="translate(531.8,261.8) scale(1.05,1)">(b)</text>
<rect x="48.4" y="44.1" width="103.19999999999999" height="50.300000000000004" fill="#fff" stroke="#8a8a8a" stroke-width="1.3"/>
<polyline points="52.60,56.50 92.90,56.50" fill="none" stroke="#474747" stroke-width="1.5" stroke-linejoin="round" stroke-dasharray="12.5 4 2 3.7"/>
<polyline points="52.60,70.40 92.90,70.40" fill="none" stroke="#666" stroke-width="1.1" stroke-linejoin="round"/>
<polyline points="52.60,84.50 92.90,84.50" fill="none" stroke="#2e2e2e" stroke-width="1.5" stroke-linejoin="round" stroke-dasharray="4.4 4.0"/>
<text x="98.00" y="59.90" font-size="10.8" text-anchor="start" font-family="Liberation Sans" font-weight="normal" fill="#111" >H-3-7/ (a)</text>
<path d="M525 0V1237L207 1010V1180L540 1409H706V0Z" fill="#111" stroke="#111" stroke-width="22.8" transform="translate(128.01,59.90) scale(0.005273,-0.005273)"/>
<text x="98.00" y="74.60" font-size="10.8" text-anchor="start" font-family="Liberation Sans" font-weight="normal" fill="#111" >G-3(a)</text>
<text x="98.00" y="88.80" font-size="10.8" text-anchor="start" font-family="Liberation Sans" font-weight="normal" fill="#111" >C-3(a)</text>
<rect x="307.6" y="44.4" width="103.0" height="50.6" fill="#fff" stroke="#8a8a8a" stroke-width="1.3"/>
<polyline points="311.80,56.50 352.10,56.50" fill="none" stroke="#474747" stroke-width="1.5" stroke-linejoin="round" stroke-dasharray="12.5 4 2 3.7"/>
<polyline points="311.80,70.40 352.10,70.40" fill="none" stroke="#a9a9a9" stroke-width="2.0" stroke-linejoin="round"/>
<polyline points="311.80,84.50 352.10,84.50" fill="none" stroke="#2e2e2e" stroke-width="1.5" stroke-linejoin="round" stroke-dasharray="4.4 4.0"/>
<text x="357.20" y="59.90" font-size="10.8" text-anchor="start" font-family="Liberation Sans" font-weight="normal" fill="#111" >H-3-7/ (b)</text>
<path d="M525 0V1237L207 1010V1180L540 1409H706V0Z" fill="#111" stroke="#111" stroke-width="22.8" transform="translate(387.21,59.90) scale(0.005273,-0.005273)"/>
<text x="357.20" y="74.60" font-size="10.8" text-anchor="start" font-family="Liberation Sans" font-weight="normal" fill="#111" >G-3(b)</text>
<text x="357.20" y="88.80" font-size="10.8" text-anchor="start" font-family="Liberation Sans" font-weight="normal" fill="#111" >C-3(b)</text>
</svg>
</body></html>
